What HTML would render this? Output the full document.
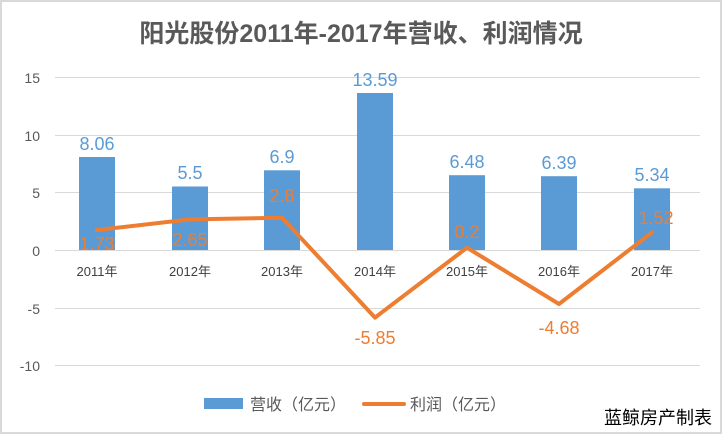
<!DOCTYPE html>
<html><head><meta charset="utf-8"><style>
body{margin:0;background:#fff}
svg{display:block}
text{font-family:"Liberation Sans","Noto Sans CJK SC",sans-serif}
</style></head><body>
<svg width="722" height="434" viewBox="0 0 722 434">
<rect x="1" y="1" width="720" height="432" fill="#fff" stroke="#d9d9d9" stroke-width="2"/>
<text x="361" y="42" text-anchor="middle" font-size="25" font-weight="bold" fill="#595959">阳光股份2011年-2017年营收、利润情况</text>
<g stroke="#d9d9d9" stroke-width="1">
<line x1="55" x2="700" y1="77.5" y2="77.5"/><line x1="55" x2="700" y1="135.5" y2="135.5"/>
<line x1="55" x2="700" y1="192.5" y2="192.5"/><line x1="55" x2="700" y1="250.5" y2="250.5"/>
<line x1="55" x2="700" y1="308.5" y2="308.5"/><line x1="55" x2="700" y1="365.5" y2="365.5"/>
</g>
<g font-size="14" fill="#595959" text-anchor="end">
<text x="40" y="83">15</text><text x="40" y="141">10</text><text x="40" y="198">5</text>
<text x="40" y="256">0</text><text x="40" y="314">-5</text><text x="40" y="371">-10</text>
</g>
<g fill="#5b9bd5">
<rect x="79" y="157" width="36" height="93"/>
<rect x="172" y="186.5" width="36" height="63.5"/>
<rect x="264" y="170.3" width="36" height="79.7"/>
<rect x="357" y="93" width="36" height="157"/>
<rect x="449" y="175.2" width="36" height="74.8"/>
<rect x="541" y="176.2" width="36" height="73.8"/>
<rect x="634" y="188.3" width="36" height="61.7"/>
</g>
<g font-size="18" fill="#5b9bd5" text-anchor="middle">
<text x="97" y="150">8.06</text><text x="190" y="179">5.5</text><text x="282" y="163">6.9</text>
<text x="375" y="86">13.59</text><text x="467" y="168">6.48</text><text x="559" y="169">6.39</text><text x="652" y="181">5.34</text>
</g>
<g font-size="13" fill="#404040" text-anchor="middle">
<text x="97" y="276">2011年</text><text x="190" y="276">2012年</text><text x="282" y="276">2013年</text>
<text x="375" y="276">2014年</text><text x="467" y="276">2015年</text><text x="559" y="276">2016年</text><text x="652" y="276">2017年</text>
</g>
<polyline points="97,230 190,219.4 282,217.7 375,317.6 467,247.7 559,304 652,232.4" fill="none" stroke="#ed7d31" stroke-width="4" stroke-linejoin="round" stroke-linecap="round"/>
<g font-size="18" fill="#ed7d31" text-anchor="middle">
<text x="97" y="250">1.73</text><text x="190" y="246">2.65</text><text x="282" y="202">2.8</text>
<text x="375" y="344">-5.85</text><text x="467" y="238">0.2</text><text x="559" y="334">-4.68</text><text x="656" y="224">1.52</text>
</g>
<rect x="204" y="398" width="39" height="11" fill="#5b9bd5"/>
<text x="250" y="410" font-size="16" fill="#595959">营收（亿元）</text>
<line x1="364" x2="404" y1="404" y2="404" stroke="#ed7d31" stroke-width="4" stroke-linecap="round"/>
<text x="410" y="410" font-size="16" fill="#595959">利润（亿元）</text>
<text x="712" y="424" font-size="18" fill="#000" text-anchor="end">蓝鲸房产制表</text>
</svg>
</body></html>
